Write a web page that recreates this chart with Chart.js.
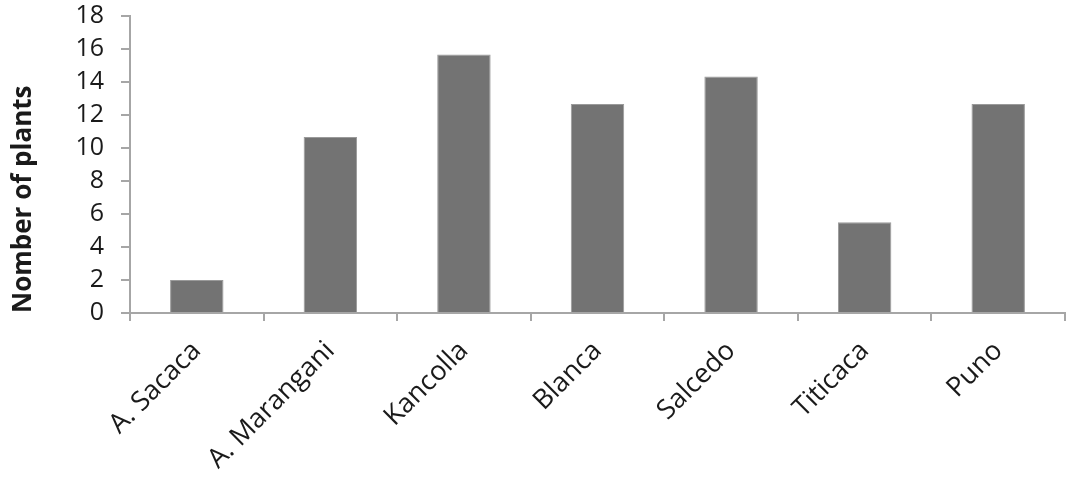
<!DOCTYPE html>
<html>
<head>
<meta charset="utf-8">
<script src="https://cdn.jsdelivr.net/npm/chart.js@4"></script>
<style>
  html, body { margin: 0; padding: 0; background: #ffffff; }
  #wrap { width: 1066px; height: 477px; position: relative; }
</style>
</head>
<body>
<div id="wrap"><canvas id="chart"></canvas></div>
<script>
// Chart data
const varieties = ['A. Sacaca', 'A. Marangani', 'Kancolla', 'Blanca', 'Salcedo', 'Titicaca', 'Puno'];
const plantCounts = [2, 10.67, 15.67, 12.67, 14.33, 5.5, 12.67];
const yTicks = [0, 2, 4, 6, 8, 10, 12, 14, 16, 18];

const axisColor = '#a6a6a6';
const textColor = '#1a1a1a';
const fontFamily = '"Open Sans", sans-serif';

new Chart(document.getElementById('chart'), {
  type: 'bar',
  data: {
    labels: varieties,
    datasets: [{
      data: plantCounts,
      backgroundColor: '#737373',
      borderColor: '#9a9a9a',
      borderWidth: 1,
      barPercentage: 0.4,
      categoryPercentage: 1
    }]
  },
  options: {
    responsive: true,
    maintainAspectRatio: false,
    animation: false,
    layout: { padding: { top: 16, right: 1, left: 8 } },
    plugins: {
      legend: { display: false },
      tooltip: { enabled: false }
    },
    scales: {
      x: {
        offset: true,
        grid: {
          offset: true,
          drawOnChartArea: false,
          color: axisColor,
          tickLength: 8,
          lineWidth: 2
        },
        border: { color: axisColor, width: 2 },
        ticks: {
          color: textColor,
          font: { family: fontFamily, size: 27 },
          minRotation: 45,
          maxRotation: 45,
          autoSkip: false,
          padding: 14
        },
        // fixed axis band height, no extra top padding from rotated labels
        afterFit: (scale) => { scale.height = 164; scale.paddingTop = 0; }
      },
      y: {
        min: 0,
        max: 18,
        afterBuildTicks: (scale) => { scale.ticks = yTicks.map(v => ({ value: v })); },
        grid: {
          drawOnChartArea: false,
          color: axisColor,
          tickLength: 9,
          lineWidth: 2
        },
        border: { color: axisColor, width: 2 },
        ticks: {
          color: textColor,
          font: { family: fontFamily, size: 25 },
          autoSkip: false,
          padding: 17
        },
        title: {
          display: true,
          text: 'Nomber of plants',
          align: 'start',
          color: textColor,
          font: { family: fontFamily, size: 26, weight: 'bold' },
          padding: { top: 0, bottom: 4 }
        },
        afterFit: (scale) => { scale.width = 122; scale.paddingTop = 0; }
      }
    }
  }
});
</script>
</body>
</html>
